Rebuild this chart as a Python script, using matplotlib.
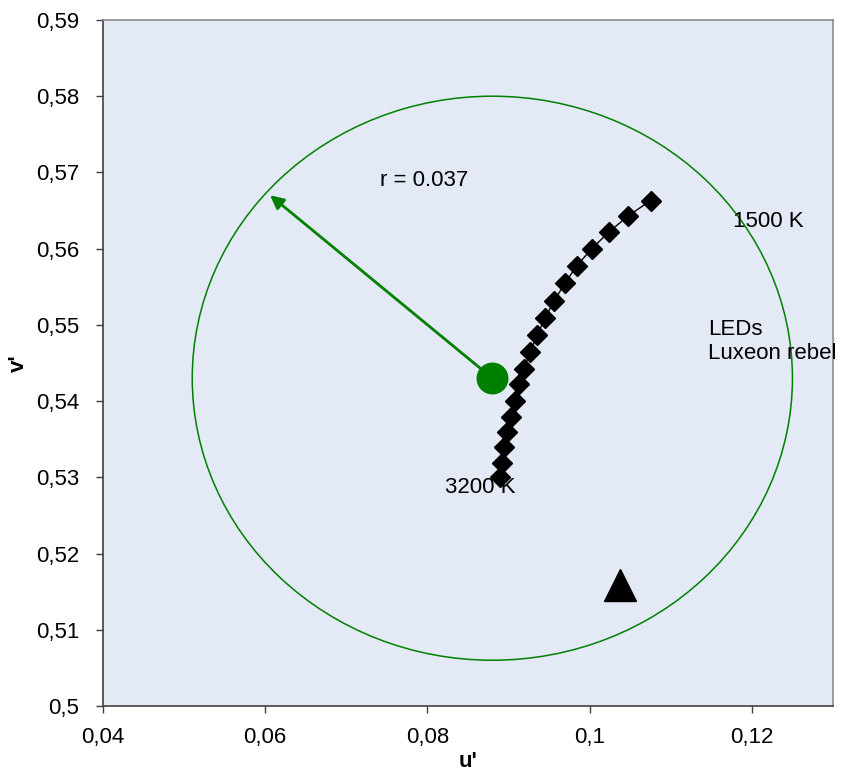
import matplotlib.pyplot as plt
from matplotlib.patches import Circle

plt.rcParams['font.family'] = ['Liberation Sans', 'DejaVu Sans']

# LED chromaticity points, 1500 K ... 3200 K
led_u = [0.1075, 0.10475, 0.10234, 0.10024, 0.09839, 0.09695, 0.09563, 0.09452, 0.09353,
         0.09263, 0.09193, 0.09132, 0.09079, 0.09026, 0.08984, 0.08947, 0.08922, 0.08894]
led_v = [0.5663, 0.5643, 0.56215, 0.55996, 0.55773, 0.55545, 0.55317, 0.55094, 0.54867,
         0.5464, 0.54425, 0.5422, 0.54005, 0.53795, 0.53594, 0.53394, 0.53194, 0.53003]

center_u = 0.088
center_v = 0.543
radius = 0.037
arrow_tip = (0.0606, 0.567)

triangle_u = [0.1037]
triangle_v = [0.5159]

x_ticks = [0.04, 0.06, 0.08, 0.1, 0.12]
x_labels = ["0,04", "0,06", "0,08", "0,1", "0,12"]
y_ticks = [0.5, 0.51, 0.52, 0.53, 0.54, 0.55, 0.56, 0.57, 0.58, 0.59]
y_labels = ["0,5", "0,51", "0,52", "0,53", "0,54", "0,55", "0,56", "0,57", "0,58", "0,59"]

fig = plt.figure(figsize=(8.5, 7.74), dpi=100)
ax = fig.add_axes([0.1212, 0.0879, 0.8588, 0.8863])
ax.set_facecolor("#E3E9F5")

ax.add_patch(Circle((center_u, center_v), radius, fill=False, edgecolor="#008000", lw=1.1, zorder=2))
ax.annotate("", xy=arrow_tip, xytext=(center_u, center_v),
            arrowprops=dict(arrowstyle="-|>", color="#008000", lw=2.0, mutation_scale=20,
                            shrinkA=0, shrinkB=0), zorder=3)
ax.plot([center_u], [center_v], "o", color="#008000", ms=22, zorder=4)

ax.plot(led_u, led_v, "-", color="black", lw=1.0, marker="D", ms=10, mfc="black", mec="black", zorder=5)
ax.plot(triangle_u, triangle_v, "^", color="black", ms=23, zorder=5)

fs = 16
ax.text(0.0741, 0.5689, "r = 0.037", fontsize=fs, va="center", ha="left")
ax.text(0.1177, 0.5636, "1500 K", fontsize=fs, va="center", ha="left")
ax.text(0.1146, 0.5478, "LEDs\nLuxeon rebel", fontsize=fs, va="center", ha="left",
        linespacing=1.2, clip_on=False)
ax.text(0.0822, 0.5287, "3200 K", fontsize=fs, va="center", ha="left", zorder=6)

ax.set_xlim(0.04, 0.13)
ax.set_ylim(0.5, 0.59)
ax.set_xticks(x_ticks)
ax.set_xticklabels(x_labels, fontsize=fs)
ax.set_yticks(y_ticks)
ax.set_yticklabels(y_labels, fontsize=fs)
ax.tick_params(direction="out", length=5, width=1, color="#404040")
ax.tick_params(axis="x", pad=10)
ax.tick_params(axis="y", pad=12)
ax.set_xlabel("u'", fontsize=fs, fontweight="bold", labelpad=2)
ax.set_ylabel("v'", fontsize=fs, fontweight="bold", labelpad=5)

for side in ["left", "bottom"]:
    ax.spines[side].set_color("#404040")
    ax.spines[side].set_linewidth(1.2)
for side in ["top", "right"]:
    ax.spines[side].set_color("#8c8c8c")
    ax.spines[side].set_linewidth(1.2)

fig.savefig("out.png", dpi=100)
